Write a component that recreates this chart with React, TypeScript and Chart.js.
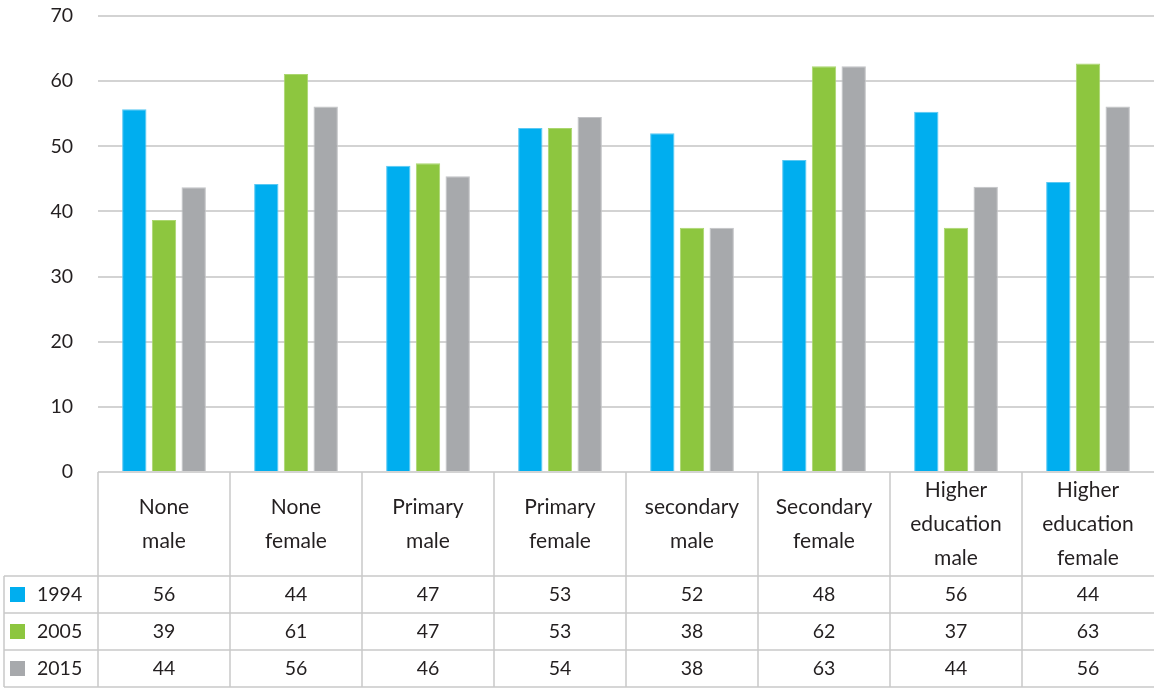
import React, { useEffect, useRef } from "react";
import { Chart, registerables } from "chart.js";

Chart.register(...registerables);

const categories: string[][] = [
  ["None", "male"],
  ["None", "female"],
  ["Primary", "male"],
  ["Primary", "female"],
  ["secondary", "male"],
  ["Secondary", "female"],
  ["Higher", "education", "male"],
  ["Higher", "education", "female"],
];

const seriesNames = ["1994", "2005", "2015"];

// bar heights
const values1994 = [55.7, 44.2, 47.0, 52.8, 52.0, 47.9, 55.3, 44.5];
const values2005 = [38.7, 61.1, 47.4, 52.8, 37.5, 62.3, 37.5, 62.7];
const values2015 = [43.7, 56.1, 45.4, 54.5, 37.5, 62.3, 43.8, 56.1];

// numbers printed in the data table
const table1994 = [56, 44, 47, 53, 52, 48, 56, 44];
const table2005 = [39, 61, 47, 53, 38, 62, 37, 63];
const table2015 = [44, 56, 46, 54, 38, 63, 44, 56];

const yTicks = [0, 10, 20, 30, 40, 50, 60, 70];

const colors = ["#00AEEF", "#8DC63F", "#A7A9AC"];
const borderColors = ["#5ac8f2", "#abd66f", "#c2c3c6"];

const FONT = "Lato, 'Open Sans', sans-serif";
const TEXT = "#231f20";
const GRID = "#d3d3d3";
const LINE = "#c9c9c9";

const tablePlugin = {
  id: "dataTable",
  afterDraw(chart: any) {
    const { ctx, chartArea } = chart;
    const n = categories.length;
    const left = chartArea.left;
    const right = chartArea.right;
    const catW = (right - left) / n;
    const top = chartArea.bottom;
    const headerBottom = top + 104;
    const rowH = 37;
    const rows = [table1994, table2005, table2015];
    const rowTops = rows.map((_, i) => headerBottom + i * rowH);
    const tableBottom = headerBottom + rows.length * rowH;
    const outerLeft = 4;

    ctx.save();
    ctx.strokeStyle = LINE;
    ctx.lineWidth = 1.5;
    ctx.beginPath();
    for (let i = 0; i <= rows.length; i++) {
      const y = Math.round(headerBottom + i * rowH);
      ctx.moveTo(outerLeft, y);
      ctx.lineTo(right, y);
    }
    ctx.moveTo(outerLeft, headerBottom);
    ctx.lineTo(outerLeft, tableBottom);
    for (let i = 0; i < n; i++) {
      const x = Math.round(left + i * catW);
      ctx.moveTo(x, top);
      ctx.lineTo(x, tableBottom);
    }
    ctx.stroke();

    ctx.fillStyle = TEXT;
    ctx.textAlign = "center";
    ctx.textBaseline = "middle";
    // header labels
    ctx.font = `21px ${FONT}`;
    const headerMid = (top + headerBottom) / 2;
    const lh = 34;
    categories.forEach((lines, i) => {
      const cx = left + (i + 0.5) * catW;
      const start = headerMid - ((lines.length - 1) * lh) / 2;
      lines.forEach((t, j) => ctx.fillText(t, cx, start + j * lh));
    });
    // values
    ctx.font = `19.5px ${FONT}`;
    rows.forEach((row, r) => {
      const cy = rowTops[r] + rowH / 2;
      row.forEach((v, i) => {
        const cx = left + (i + 0.5) * catW;
        ctx.fillText(String(v), cx, cy);
      });
    });
    // legend keys
    ctx.textAlign = "left";
    rows.forEach((_, r) => {
      const cy = rowTops[r] + rowH / 2;
      ctx.fillStyle = colors[r];
      ctx.fillRect(10, Math.round(cy - 7.5), 15, 15);
      ctx.fillStyle = TEXT;
      ctx.fillText(seriesNames[r], 37, cy);
    });
    ctx.restore();
  },
};

export default function App() {
  const ref = useRef<HTMLCanvasElement | null>(null);

  useEffect(() => {
    document.body.style.margin = "0";
    if (!ref.current) return;
    const data = [values1994, values2005, values2015];
    const chart = new Chart(ref.current, {
      type: "bar",
      data: {
        labels: categories,
        datasets: seriesNames.map((name, i) => ({
          label: name,
          data: data[i],
          backgroundColor: colors[i],
          borderColor: borderColors[i],
          borderWidth: { top: 1, left: 1, right: 1, bottom: 0 },
          categoryPercentage: 0.675,
          barPercentage: 0.82,
        })),
      },
      options: {
        animation: false,
        responsive: true,
        maintainAspectRatio: false,
        layout: { padding: { top: 16, bottom: 217, left: 0, right: 0 } },
        plugins: {
          legend: { display: false },
          tooltip: { enabled: false },
        },
        scales: {
          x: { display: false },
          y: {
            min: 0,
            max: 70,
            afterFit(scale: any) {
              scale.width = 98;
            },
            afterBuildTicks(scale: any) {
              scale.ticks = yTicks.map((v) => ({ value: v }));
            },
            border: { display: false },
            grid: {
              color: GRID,
              lineWidth: 2,
              drawTicks: true,
              tickLength: 25,
              tickColor: "rgba(0,0,0,0)",
            },
            ticks: {
              padding: 0,
              color: TEXT,
              font: { family: FONT, size: 19.5 },
            },
          },
        },
      },
      plugins: [tablePlugin],
    });
    return () => chart.destroy();
  }, []);

  return (
    <div style={{ position: "relative", width: 1154, height: 689 }}>
      <canvas ref={ref} />
    </div>
  );
}
